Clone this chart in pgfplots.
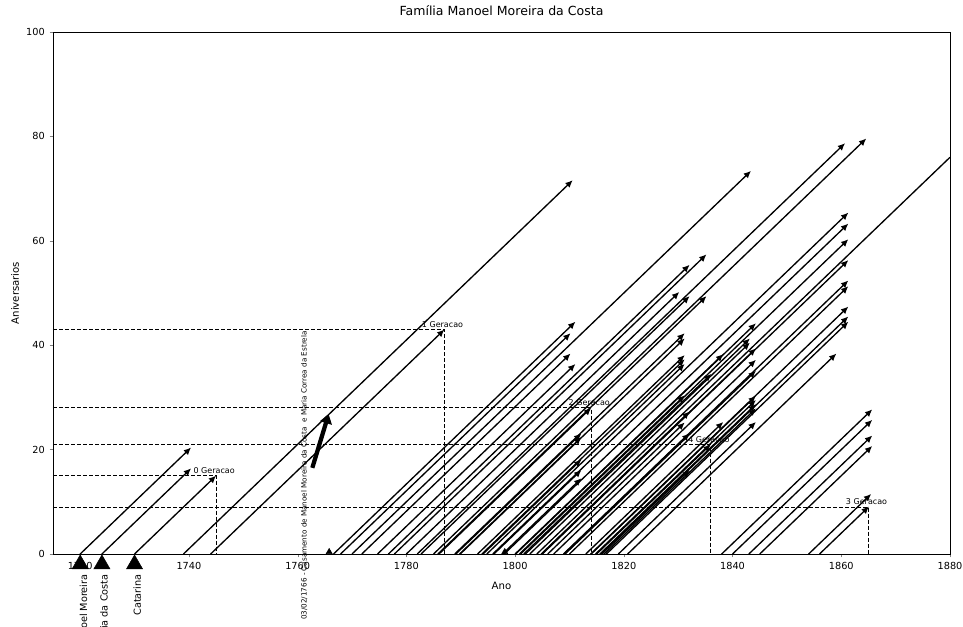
\documentclass[border=0pt]{standalone}
\usepackage{fontspec}
\setmainfont{DejaVu Sans}
\usepackage{pgfplots}
\usepackage{pgfplotstable}
\pgfplotsset{compat=1.18}
\usetikzlibrary{arrows.meta}

% birth year (b) and age at end of arrow (a)
\pgfplotstableread{
b a
1720 20.4
1724 16.4
1730 15.0
1739 71.6
1744 43.0
1770 73.4
1782 78.7
1785 79.6
1766.6 44.5
1767.9 42.3
1771.8 38.4
1774.7 36.4
1789.1 23.1
1789.8 22.4
1794.1 18.1
1796.1 16.1
1797.7 14.5
1786 28
1776.7 55.4
1780 50.2
1782.7 49.4
1788.9 42.3
1789.9 41.3
1793.1 38.1
1793.9 37.3
1794.8 36.4
1800.8 30.4
1804.8 27.3
1806 25.2
1809 23.1
1816 16.1
1777.8 57.4
1785.8 49.4
1801.6 34.5
1815 21
1800 38.3
1813 25.3
1800.1 44.2
1801.9 41.3
1802.7 40.5
1804.9 39.4
1807.1 37.2
1809.2 35.1
1814 30.3
1814.8 29.5
1815.6 28.7
1816.4 27.9
1819 25.3
1795.9 65.4
1798 63.3
1801 60.3
1805 56.3
1808.9 52.4
1810 51.3
1813.9 47.4
1815.8 45.5
1816.8 44.5
1820.7 38.4
1838 27.7
1840 25.7
1843 22.7
1845 20.7
1854 11.5
1856 9.1
}\arrowdata

\begin{document}
\begin{tikzpicture}
\begin{axis}[name=ax, scale only axis, width=672.75pt, height=391.5pt,
  xmin=1715, xmax=1880, ymin=0, ymax=100,
  xtick={1720,1740,...,1880}, ytick={0,20,...,100},
  /pgf/number format/1000 sep={},
  /pgf/number format/assume math mode=true,
  tick label style={font=\fontsize{7.3}{8}\selectfont},
  tick align=outside, tick pos=left, major tick length=2.6pt,
  xlabel={Ano}, ylabel={Aniversarios},
  label style={font=\fontsize{7.6}{9}\selectfont},
  xlabel style={at={(axis description cs:0.5,0)}, anchor=center, yshift=-24pt},
  ylabel style={at={(axis description cs:0,0.5)}, anchor=center, rotate=0, yshift=28.5pt},
  title={Família Manoel Moreira da Costa},
  title style={font=\fontsize{9.4}{11}\selectfont, at={(axis description cs:0.5,1)}, anchor=center, yshift=9.75pt},
  clip=false, axis line style={line width=0.6pt}]

% generation guide lines
\pgfplotsset{gen/.style={black, line width=0.6pt, dash pattern=on 3pt off 1.5pt, forget plot}}
\addplot[gen] coordinates {(1715,15) (1745,15) (1745,0)};
\addplot[gen] coordinates {(1715,43) (1787,43) (1787,0)};
\addplot[gen] coordinates {(1715,28) (1814,28) (1814,0)};
\addplot[gen] coordinates {(1715,21) (1836,21) (1836,0)};
\addplot[gen] coordinates {(1715,9) (1865,9) (1865,0)};

% life lines
\addplot[black, line width=1pt, -{Latex[length=5.5pt,width=5pt]},
  quiver={u=\thisrow{a}, v=\thisrow{a}}] table[x=b, y expr=0] {\arrowdata};
\addplot[black, line width=1pt] coordinates {(1804,0) (1880,76)};

% markers
\addplot[only marks, mark=triangle*, mark size=6.9pt, black] coordinates {(1720,-1.95) (1724,-1.95) (1730,-1.95)};
\addplot[only marks, mark=triangle*, mark size=2.6pt, black] coordinates {(1765.8,0.4) (1798.1,0.4)};

% marriage annotation arrow
\addplot[black, line width=3.2pt, -{Triangle[length=7pt,width=9pt]}] coordinates {(1762.7,16.5) (1765.7,26.8)};

% labels
\node[rotate=90, anchor=east, font=\fontsize{7.3}{8}\selectfont] at (axis cs:1720.6,-3) {Manoel Moreira};
\node[rotate=90, anchor=east, font=\fontsize{7.3}{8}\selectfont] at (axis cs:1724.4,-3) {Maria da Costa};
\node[rotate=90, anchor=east, font=\fontsize{7.3}{8}\selectfont] at (axis cs:1730.5,-3) {Catarina};
\node[rotate=90, anchor=west, font=\fontsize{5.4}{6}\selectfont] at (axis cs:1761.2,-13.5) {03/02/1766 - Casamento de Manoel Moreira da Costa\ \ e Maria Correa da Estrela};

\node[anchor=base west, font=\fontsize{6}{7}\selectfont] at (axis cs:1740,15.4) {0 Geracao};
\node[anchor=base west, font=\fontsize{6}{7}\selectfont] at (axis cs:1782,43.3) {1 Geracao};
\node[anchor=base west, font=\fontsize{6}{7}\selectfont] at (axis cs:1809,28.4) {2 Geracao};
\node[anchor=base west, font=\fontsize{6}{7}\selectfont] at (axis cs:1831,21.4) {4 Geracao};
\node[anchor=base west, font=\fontsize{6}{7}\selectfont] at (axis cs:1860,9.4) {3 Geracao};
\end{axis}
\pgfresetboundingbox
\path ([shift={(-39.75pt,-54.75pt)}]ax.south west) rectangle ([shift={(9.75pt,24pt)}]ax.north east);
\end{tikzpicture}
\end{document}
